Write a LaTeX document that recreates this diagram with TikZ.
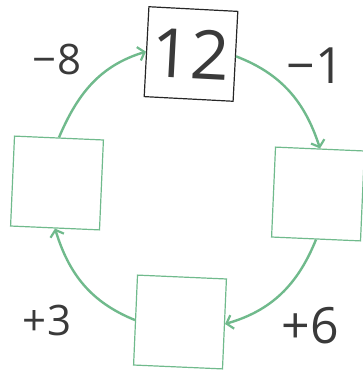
\documentclass[tikz,border=0pt]{standalone}
\usepackage{fontspec}
\setmainfont{Open Sans}
\usetikzlibrary{arrows.meta}
\definecolor{grn}{RGB}{112,186,140}
\definecolor{txt}{RGB}{58,58,58}
\begin{document}
\begin{tikzpicture}[x=1pt,y=1pt,
  box/.style={draw=grn, line width=1.2pt, minimum width=89pt, minimum height=90pt, inner sep=0pt, fill=white},
  topbox/.style={draw=black!85, line width=1.2pt, minimum width=89pt, minimum height=90pt, inner sep=0pt, fill=white, text=txt},
  conn/.style={draw=grn, line width=2.4pt, -{Straight Barb[length=6pt,width=14pt,line width=2.2pt]}},
  lbl/.style={text=txt, inner sep=0pt}]
\useasboundingbox (0,0) rectangle (362,-371);
\node[topbox, rotate=-3] (T) at (191,-54) {\fontsize{68}{78}\selectfont 12};
\node[box, rotate=-2.5] (L) at (57,-183) {};
\node[box, rotate=-2.5] (R) at (318,-194) {};
\node[box, rotate=-2.5] (B) at (180,-322) {};
\draw[conn] (L.north) to[out=67,in=197] (T.west);
\draw[conn] (T.east) to[out=-21,in=108] (R.north);
\draw[conn] (R.south) to[out=248,in=16] (B.east);
\draw[conn] (B.west) to[out=158,in=287] (L.south);
\node[lbl] (m8) at (57,-60) {\fontsize{42}{50}\selectfont −8};
\node[lbl] (m1) at (315,-66) {\fontsize{50}{58}\selectfont −1};
\node[lbl] (p3) at (47,-320) {\fontsize{42}{50}\selectfont +3};
\node[lbl] (p6) at (310,-326) {\fontsize{50}{58}\selectfont +6};
\end{tikzpicture}
\end{document}
